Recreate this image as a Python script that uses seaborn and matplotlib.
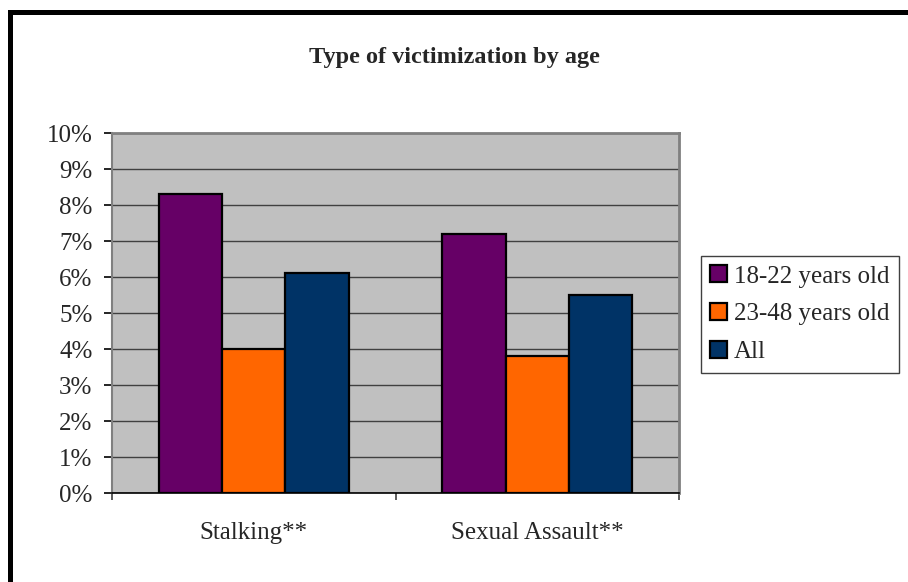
import pandas as pd
import numpy as np
import matplotlib
matplotlib.use("Agg")
import matplotlib.pyplot as plt
from matplotlib.patches import Rectangle
import seaborn as sns

# data (percent)
categories = ["Stalking**", "Sexual Assault**"]
groups = ["18-22 years old", "23-48 years old", "All"]
young = [8.3, 7.2]
older = [4.0, 3.8]
everyone = [6.1, 5.5]
colors = ["#660066", "#FF6600", "#003366"]
ytick_vals = list(range(0, 11))
ytick_labels = [f"{v}%" for v in ytick_vals]

df = pd.DataFrame({
    "category": categories * 3,
    "group": [groups[0]] * 2 + [groups[1]] * 2 + [groups[2]] * 2,
    "value": young + older + everyone,
})

sns.set_style("white")
plt.rcParams["font.family"] = ["Liberation Serif", "DejaVu Serif"]

fig = plt.figure(figsize=(9.08, 5.82), dpi=100)
ax = fig.add_axes([112 / 908, 1 - 493 / 582, 567 / 908, 360 / 582])
ax.set_facecolor("#C0C0C0")

sns.barplot(data=df, x="category", y="value", hue="group", hue_order=groups,
            order=categories, palette=colors, width=0.67, saturation=1,
            edgecolor="black", linewidth=1.6, ax=ax, zorder=3)

ax.set_xlim(-0.5, 1.5)
ax.set_ylim(0, 10)
ax.set_yticks(ytick_vals, labels=ytick_labels)
ax.yaxis.grid(True, color="#404040", linewidth=1.0, zorder=1)
ax.set_axisbelow(True)
ax.set_xlabel("")
ax.set_ylabel("")

# category labels centred, tick marks on the category boundaries
ax.set_xticks([0, 1], labels=categories)
ax.set_xticks([-0.5, 0.5, 1.5], minor=True)
ax.tick_params(axis="x", which="major", length=0, pad=21, labelsize=18)
ax.tick_params(axis="x", which="minor", length=5, width=1.2, color="#404040",
               direction="out", bottom=True)
ax.tick_params(axis="y", length=6, width=1.2, color="black", direction="out",
               left=True, pad=8, labelsize=18)

for side in ["top", "right"]:
    ax.spines[side].set_color("#808080")
    ax.spines[side].set_linewidth(2)
ax.spines["left"].set_color("#808080")
ax.spines["left"].set_linewidth(1.5)
ax.spines["bottom"].set_color("black")
ax.spines["bottom"].set_linewidth(1.2)

fig.text(454 / 908, 1 - 57 / 582, "Type of victimization by age",
         ha="center", va="center", fontsize=17.5, fontweight="bold")

handles, labels = ax.get_legend_handles_labels()
ax.legend(handles, labels, loc="upper left",
          bbox_to_anchor=(701 / 908, 1 - 256 / 582), bbox_transform=fig.transFigure,
          fontsize=18, frameon=True, fancybox=False, edgecolor="#404040",
          framealpha=1, handlelength=0.68, handleheight=0.68, handletextpad=0.28,
          borderpad=0.37, labelspacing=0.62, borderaxespad=0)
ax.get_legend().get_frame().set_linewidth(1.0)

# chart border (only top and left are inside the picture)
fig.patches.append(Rectangle((9.5 / 908, -0.5), 2, 0.5 + 1 - 12 / 582,
                             transform=fig.transFigure, fill=False,
                             edgecolor="black", linewidth=3.6))

fig.savefig("out.png", dpi=100)
